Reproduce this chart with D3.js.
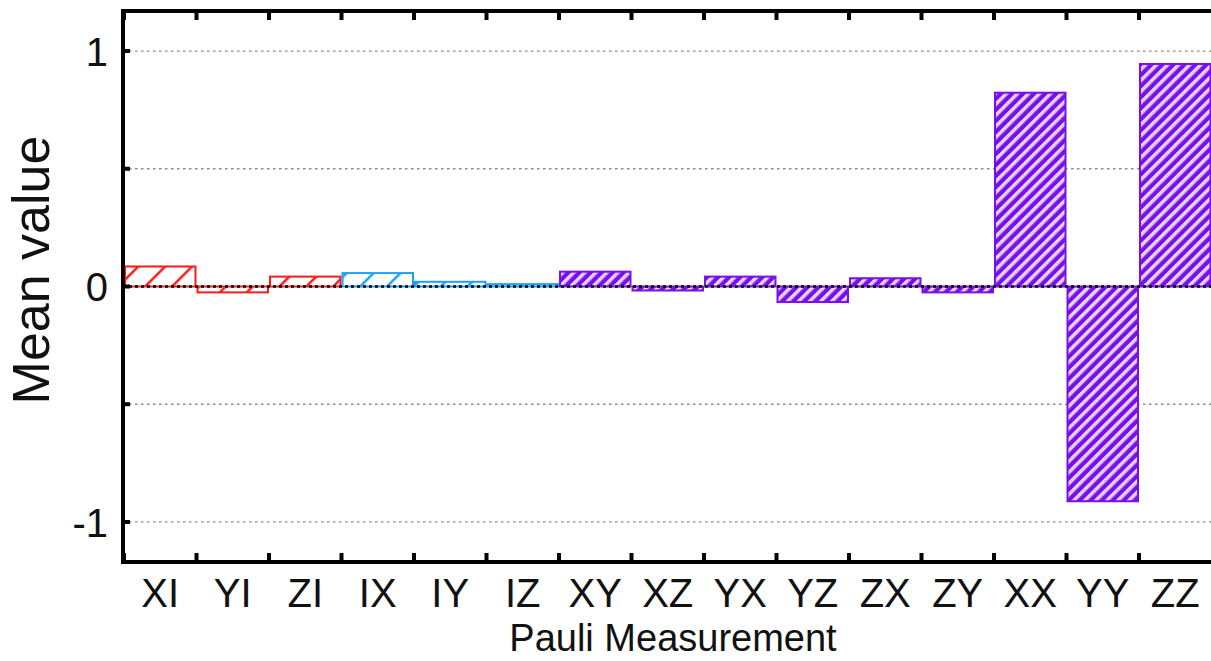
<!DOCTYPE html>
<html>
<head>
<meta charset="utf-8">
<script src="https://cdn.jsdelivr.net/npm/d3@7"></script>
<style>
  html, body { margin: 0; padding: 0; background: #fff; overflow: hidden; }
  svg { display: block; }
  text { font-family: "Liberation Sans", Arial, sans-serif; fill: #111; }
</style>
</head>
<body>
<svg id="chart" width="1211" height="661"></svg>
<script>
// Pauli measurement expectation values
const categories = ["XI","YI","ZI","IX","IY","IZ","XY","XZ","YX","YZ","ZX","ZY","XX","YY","ZZ"];
const meanValues = [0.085,-0.025,0.042,0.057,0.02,0.01,0.063,-0.017,0.042,-0.066,0.035,-0.025,0.823,-0.912,0.945];
// which group each measurement belongs to: single qubit A, single qubit B, correlations
const groups = ["a","a","a","b","b","b","c","c","c","c","c","c","c","c","c"];
const yTicks = [-1, 0, 1];
const gridValues = [-1, -0.5, 0.5, 1];

const groupColor = { a: "#ff1a1a", b: "#1ea0f5", c: "#7a10e8" };

const svg = d3.select("#chart");
const margin = { left: 123, right: 0, top: 11, bottom: 99 };
const W = 1211, H = 661;

const x = d3.scaleBand().domain(categories).range([margin.left + 1, W + 0.5]).padding(0);
const y = d3.scaleLinear().domain([-1.17, 1.17]).range([H - margin.bottom, margin.top]);

// hatch patterns
const defs = svg.append("defs");
// sparse single-line hatch for the single-qubit groups
["a", "b"].forEach(g => {
  const p = defs.append("pattern")
    .attr("id", "hatch-" + g)
    .attr("patternUnits", "userSpaceOnUse")
    .attr("width", 19).attr("height", 19)
    .attr("patternTransform", "rotate(45)");
  p.append("rect").attr("width", 19).attr("height", 19).attr("fill", "#fff");
  p.append("line").attr("x1", 0).attr("y1", 0).attr("x2", 0).attr("y2", 19)
    .attr("stroke", groupColor[g]).attr("stroke-width", 5);
});
// dense hatch for the correlation group
{
  const p = defs.append("pattern")
    .attr("id", "hatch-c")
    .attr("patternUnits", "userSpaceOnUse")
    .attr("width", 7.8).attr("height", 7.8)
    .attr("patternTransform", "rotate(45)");
  p.append("rect").attr("width", 7.8).attr("height", 7.8).attr("fill", groupColor.c);
  p.append("rect").attr("x", 3.9).attr("y", 0).attr("width", 3.4).attr("height", 7.8).attr("fill", "#f4ecff");
  p.append("line").attr("x1", 5.6).attr("y1", 0).attr("x2", 5.6).attr("y2", 7.8)
    .attr("stroke", "#a070f0").attr("stroke-width", 0.9).attr("stroke-dasharray", "1.3,1.3");
}

// grid lines
svg.append("g").selectAll("line").data(gridValues).join("line")
  .attr("x1", margin.left).attr("x2", W)
  .attr("y1", d => y(d)).attr("y2", d => y(d))
  .attr("stroke", "#8a8a8a").attr("stroke-width", 1.3)
  .attr("stroke-dasharray", "2.5,3.5");

// bars
svg.append("g").selectAll("rect").data(categories).join("rect")
  .attr("x", d => x(d) + 1)
  .attr("width", x.bandwidth() - 2)
  .attr("y", (d, i) => y(Math.max(0, meanValues[i])))
  .attr("height", (d, i) => Math.abs(y(meanValues[i]) - y(0)))
  .attr("fill", (d, i) => "url(#hatch-" + groups[i] + ")")
  .attr("stroke", (d, i) => groupColor[groups[i]])
  .attr("stroke-width", 2);

// zero line
svg.append("line")
  .attr("x1", margin.left).attr("x2", W)
  .attr("y1", y(0)).attr("y2", y(0))
  .attr("stroke", "#000").attr("stroke-width", 2.4)
  .attr("stroke-dasharray", "3,3");

// frame
const frame = svg.append("g").attr("stroke", "#000").attr("stroke-width", 4).attr("fill", "none");
frame.append("path").attr("d", `M${W + 2},${y.range()[1]} H${margin.left} V${y.range()[0]} H${W + 2}`);

// category labels under the plot
const xAxisBottom = d3.axisBottom(x).tickSize(0).tickPadding(0);
const gxb = svg.append("g").attr("transform", `translate(0,${y.range()[0]})`).call(xAxisBottom);
gxb.select(".domain").remove();
gxb.selectAll("text").attr("font-size", 40).attr("y", 45).attr("dy", 0).style("fill", "#111");

// band boundary ticks, top and bottom
const bounds = categories.map(c => x(c));
svg.append("g").selectAll("line").data(bounds).join("line")
  .attr("x1", d => d).attr("x2", d => d)
  .attr("y1", y.range()[0]).attr("y2", y.range()[0] - 9)
  .attr("stroke", "#000").attr("stroke-width", 4);
svg.append("g").selectAll("line").data(bounds).join("line")
  .attr("x1", d => d).attr("x2", d => d)
  .attr("y1", y.range()[1]).attr("y2", y.range()[1] + 9)
  .attr("stroke", "#000").attr("stroke-width", 4);

const yAxis = d3.axisLeft(y).tickValues(yTicks).tickSize(0).tickPadding(15).tickFormat(d => d < 0 ? "-" + Math.abs(d) : String(d));
const gy = svg.append("g").attr("transform", `translate(${margin.left},0)`).call(yAxis);
gy.select(".domain").remove();
gy.selectAll("text").attr("font-size", 40).attr("dy", "0.36em").style("fill", "#111");
svg.append("g").selectAll("line").data(yTicks.concat([-0.5, 0.5])).join("line")
  .attr("x1", margin.left).attr("x2", margin.left + 7)
  .attr("y1", d => y(d)).attr("y2", d => y(d))
  .attr("stroke", "#000").attr("stroke-width", 4);

// axis titles
svg.append("text")
  .attr("x", 673).attr("y", 651)
  .attr("text-anchor", "middle")
  .attr("font-size", 38)
  .text("Pauli Measurement");
svg.append("text")
  .attr("transform", `translate(49,270) rotate(-90)`)
  .attr("text-anchor", "middle")
  .attr("font-size", 52)
  .text("Mean value");
</script>
</body>
</html>
